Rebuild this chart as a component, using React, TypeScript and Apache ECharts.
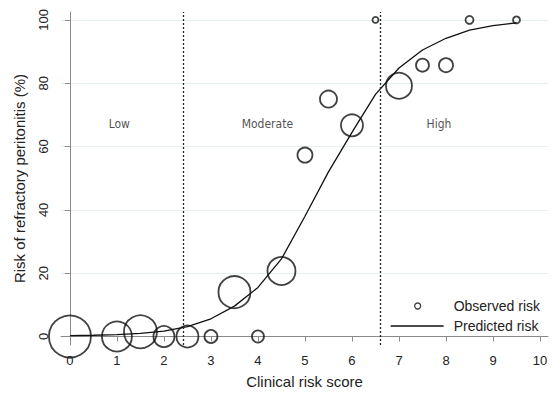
import React, { useEffect, useRef } from "react";
import * as echarts from "echarts";

const scoreX = [0, 1, 1.5, 2, 2.5, 3, 3.5, 4, 4.5, 5, 5.5, 6, 6.5, 7, 7.5, 8, 8.5, 9.5];
const observedRisk = [0, 0, 1.5, 0, 0, 0, 14, 0, 20.7, 57.3, 75, 66.7, 100, 79.2, 85.7, 85.7, 100, 100];
const bubbleSize = [42, 30, 33, 21, 22, 13, 32, 12, 28, 15, 17, 22, 6, 26, 13, 14, 8, 7];

const curveX = [0, 0.5, 1, 1.5, 2, 2.5, 3, 3.5, 4, 4.5, 5, 5.5, 6, 6.5, 7, 7.5, 8, 8.5, 9, 9.5];
const predictedRisk = [0.3, 0.4, 0.6, 1.0, 1.7, 3.1, 5.6, 9.6, 15.5, 24.5, 38, 52, 64.5, 76.5, 84.8, 90.5, 94.2, 96.8, 98.2, 99.1];

const cutoffs = [2.4, 6.6];
const zoneLabels = ["Low", "Moderate", "High"];
const zoneX = [1.05, 4.2, 7.85];
const zoneY = [67, 67, 67];

const xTicks = [0, 1, 2, 3, 4, 5, 6, 7, 8, 9, 10];
const yTicks = [0, 20, 40, 60, 80, 100];

export default function App() {
  const ref = useRef<HTMLDivElement>(null);
  useEffect(() => {
    if (!ref.current) return;
    const chart = echarts.init(ref.current, undefined, { renderer: "svg" });
    const axisFont = { fontFamily: "Liberation Sans, Arial, sans-serif", color: "#222" };
    chart.setOption({
      animation: false,
      backgroundColor: "#fff",
      grid: { left: 61, right: 5, top: 12, bottom: 48, containLabel: false },
      xAxis: {
        type: "value",
        min: -0.19,
        max: 10.17,
        name: "Clinical risk score",
        nameLocation: "middle",
        nameGap: 29,
        nameTextStyle: { ...axisFont, fontSize: 15 },
        axisLine: { show: true, lineStyle: { color: "#8a8a8a", width: 1 } },
        axisTick: { show: true, length: 5, customValues: xTicks, lineStyle: { color: "#8a8a8a" } },
        axisLabel: { customValues: xTicks, ...axisFont, fontSize: 13, margin: 9 },
        splitLine: { show: false },
      },
      yAxis: {
        type: "value",
        min: -2.68,
        max: 102.5,
        name: "Risk of refractory peritonitis (%)",
        nameLocation: "middle",
        nameGap: 34,
        nameTextStyle: { ...axisFont, fontSize: 15 },
        axisLine: { show: true, lineStyle: { color: "#8a8a8a", width: 1 } },
        axisTick: { show: true, length: 5, customValues: yTicks, lineStyle: { color: "#8a8a8a" } },
        axisLabel: { customValues: yTicks, ...axisFont, fontSize: 13, rotate: 90, margin: 11 },
        splitLine: { show: true, lineStyle: { color: "#e6f0f3", width: 1 } },
      },
      legend: [
        {
          data: ["Observed risk"],
          left: 414,
          top: 299,
          padding: 0,
          itemWidth: 6,
          itemHeight: 6,
          icon: "circle",
          itemStyle: { color: "transparent", borderColor: "#111", borderWidth: 1.3 },
          textStyle: { ...axisFont, fontSize: 14, padding: [0, 0, 0, 28] },
        },
        {
          data: ["Predicted risk"],
          left: 390,
          top: 319,
          padding: 0,
          itemWidth: 53,
          itemHeight: 14,
          itemStyle: { opacity: 0 },
          lineStyle: { color: "#111", width: 1.3, opacity: 1 },
          textStyle: { ...axisFont, fontSize: 14, padding: [0, 0, 0, 5] },
        },
      ],
      series: [
        {
          name: "Observed risk",
          type: "scatter",
          data: scoreX.map((x, i) => [x, observedRisk[i], bubbleSize[i]]),
          symbol: "circle",
          symbolSize: (v: number[]) => v[2],
          itemStyle: { color: "transparent", borderColor: "#111", borderWidth: 1.8 },
          silent: true,
          z: 3,
        },
        {
          name: "Predicted risk",
          type: "line",
          data: curveX.map((x, i) => [x, predictedRisk[i]]),
          symbol: "none",
          lineStyle: { color: "#111", width: 1.3 },
          silent: true,
          z: 4,
          markLine: {
            silent: true,
            symbol: "none",
            label: { show: false },
            lineStyle: { color: "#222", type: [2, 2], width: 1.3 },
            data: cutoffs.map((c) => ({ xAxis: c })),
          },
        },
        {
          name: "zones",
          type: "scatter",
          data: zoneLabels.map((t, i) => [zoneX[i], zoneY[i], t]),
          symbolSize: 0,
          silent: true,
          label: {
            show: true,
            position: "inside",
            formatter: (p: any) => p.data[2],
            fontFamily: "DejaVu Sans Condensed, DejaVu Sans, sans-serif",
            fontSize: 12,
            color: "#222",
          },
        },
      ],
    });
    return () => chart.dispose();
  }, []);
  return <div ref={ref} style={{ width: 553, height: 394, position: "absolute", left: 0, top: 0 }} />;
}
